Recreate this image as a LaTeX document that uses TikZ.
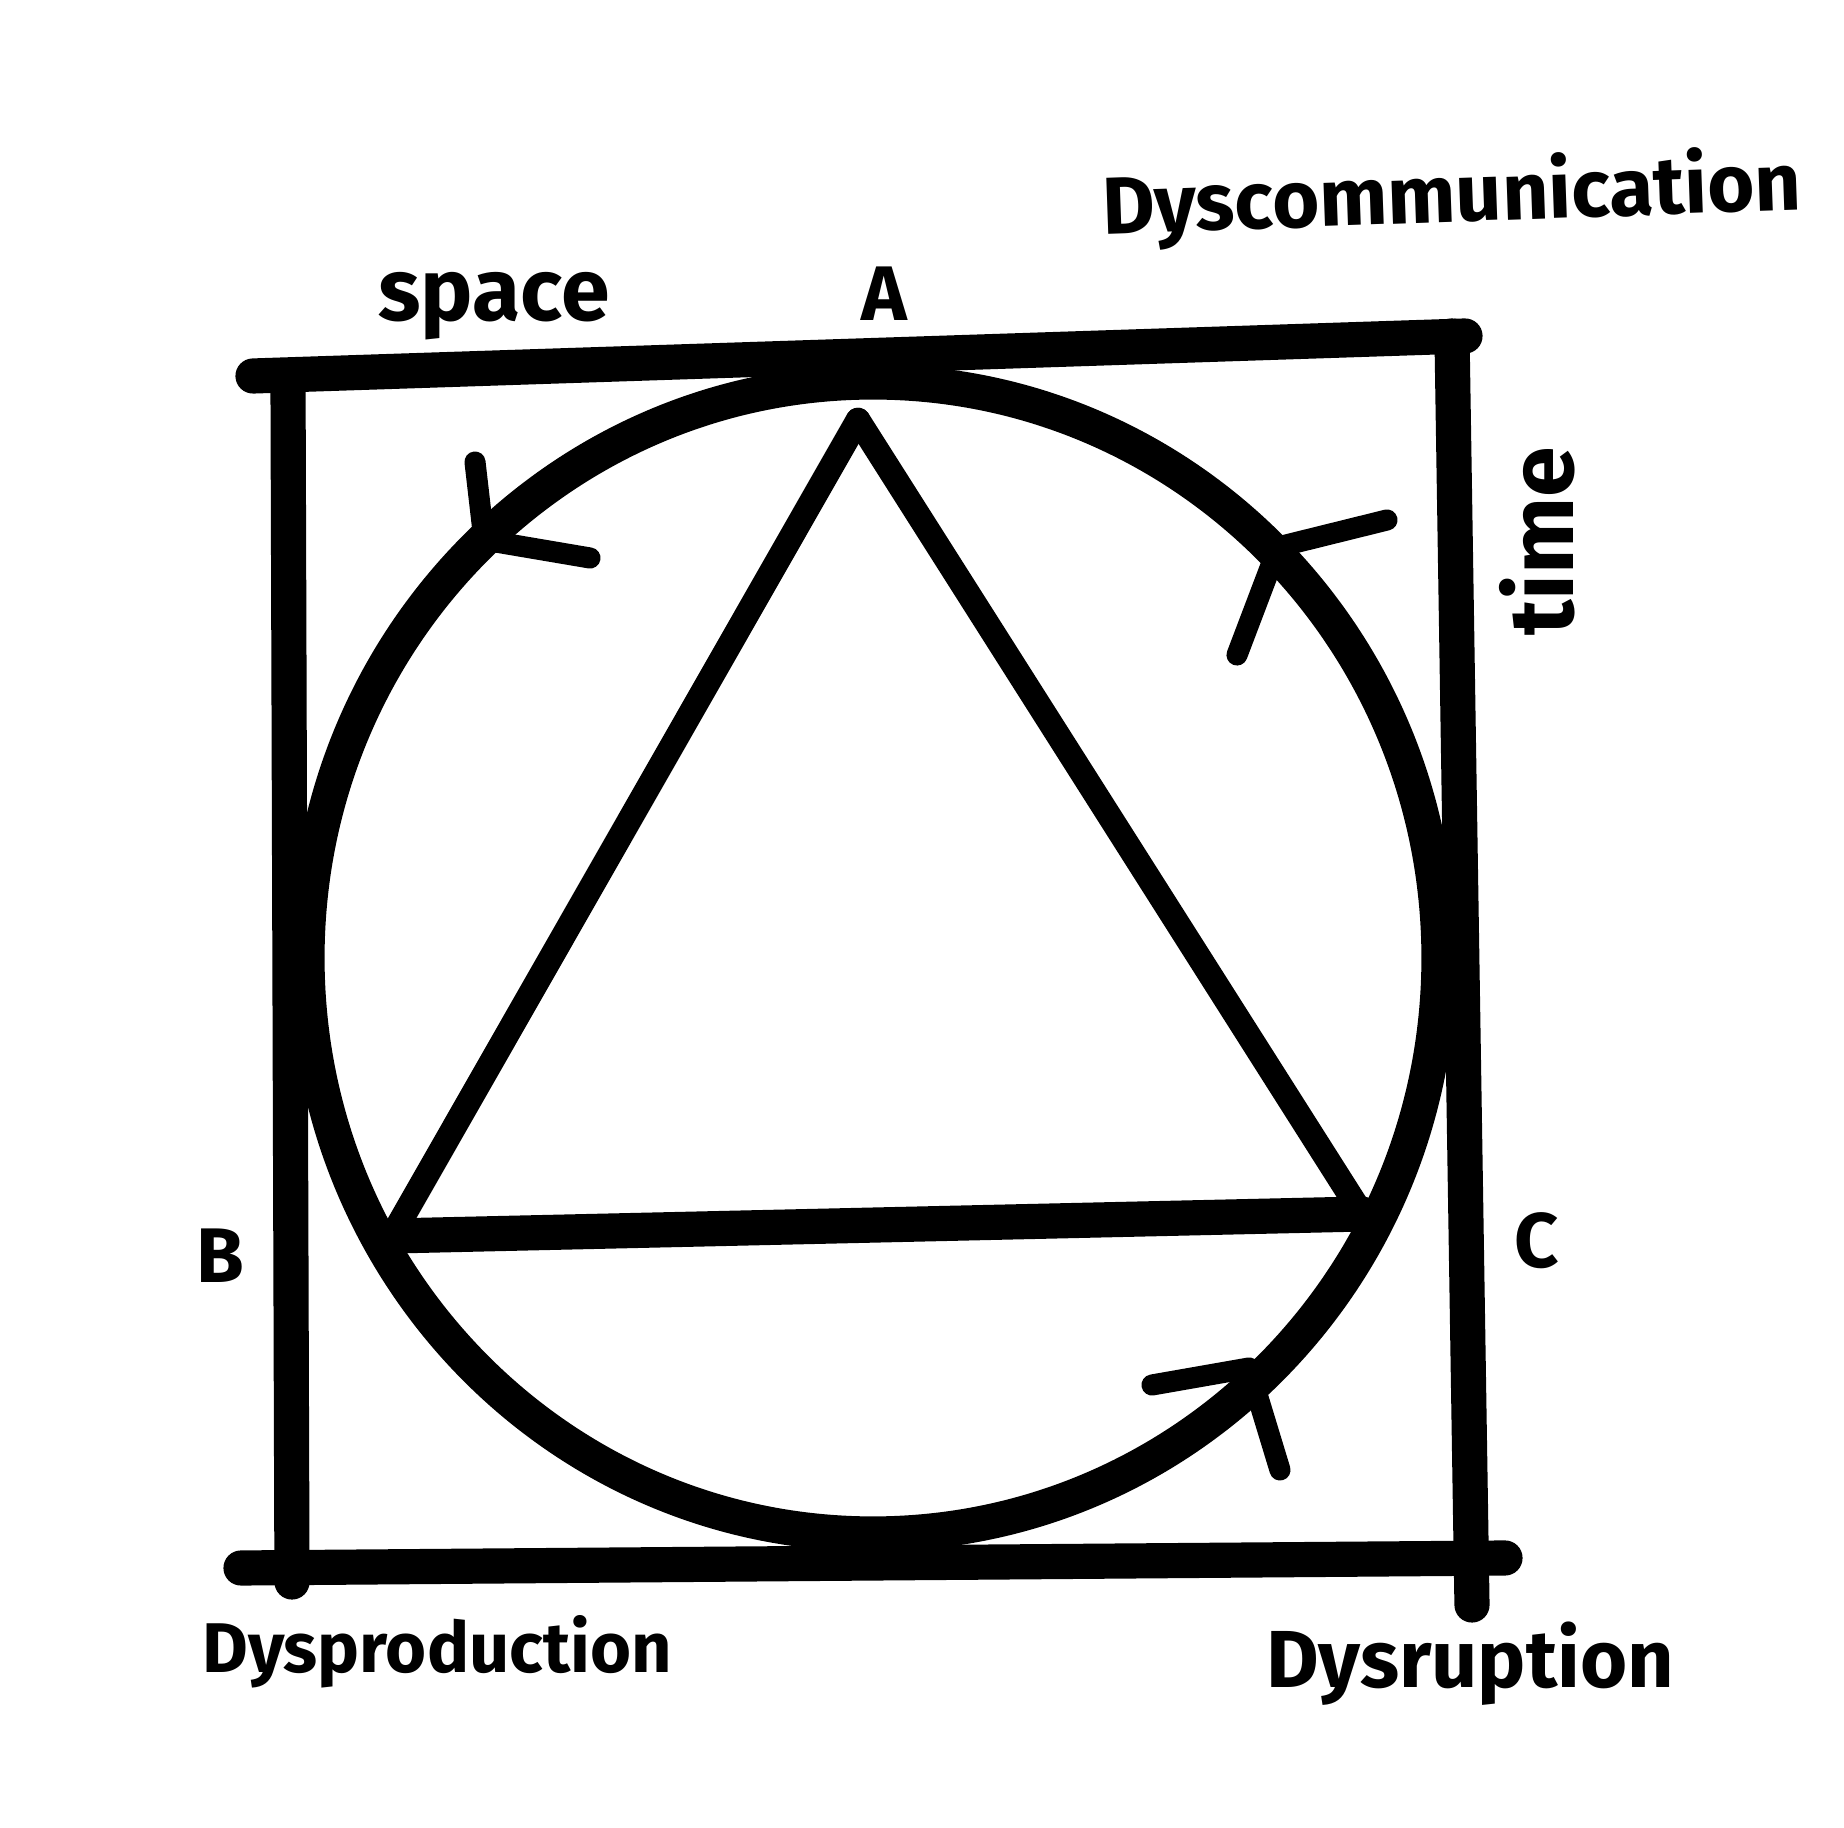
\documentclass[tikz,border=0pt]{standalone}
\usepackage{fontspec}
\setmainfont{Fira Sans}
\usetikzlibrary{positioning}

\begin{document}
\begin{tikzpicture}[
  x=0.01cm, y=-0.01cm,
  frame/.style={line width=10pt, line cap=round, line join=round},
  ring/.style={line width=10pt},
  side/.style={line width=7pt, line cap=round},
  barb/.style={line width=6pt, line cap=round, line join=round},
  lab/.style={inner sep=0pt, font=\bfseries\fontsize{#1}{#1}\selectfont},
  lab/.default=22
]
  \useasboundingbox (0,0) rectangle (1844,1828);

  % square
  \draw[frame] (253,376) -- (1465,336);
  \draw[frame] (1452,336) -- (1472,1605);
  \draw[frame] (1505,1558) -- (241,1568);
  \draw[frame] (288,380) -- (292,1582);

  % circle
  \draw[ring] (873,958) ellipse [x radius=566, y radius=576];

  % triangle
  \coordinate (a) at (858,420);
  \coordinate (b) at (392,1236);
  \coordinate (c) at (1362,1214);
  \draw[side] (a) -- (b);
  \draw[side] (a) -- (c);
  \draw[frame] (b) -- (c);

  % arrows on the circle
  \foreach \tx/\ty/\ax/\ay/\bx/\by in {484/540/475/462/590/558,
                                       1278/547/1387/520/1237/655,
                                       1249/1368/1152/1385/1280/1470} {
    \draw[barb] (\ax,\ay) -- (\tx,\ty) -- (\bx,\by);
  }

  % labels
  \node[lab=23, rotate=2] (dyscom) at (1452,198) {Dyscommunication};
  \node[lab=25] (space) at (494,306) {space};
  \node[lab] (la) at (884,294) {A};
  \node[lab=26, rotate=90] (time) at (1537,541) {time};
  \node[lab] (lb) at (220,1256) {B};
  \node[lab] (lc) at (1537,1241) {C};
  \node[lab=20] (dysprod) at (437,1652) {Dysproduction};
  \node[lab=23] (dysrupt) at (1470,1664) {Dysruption};
\end{tikzpicture}
\end{document}
